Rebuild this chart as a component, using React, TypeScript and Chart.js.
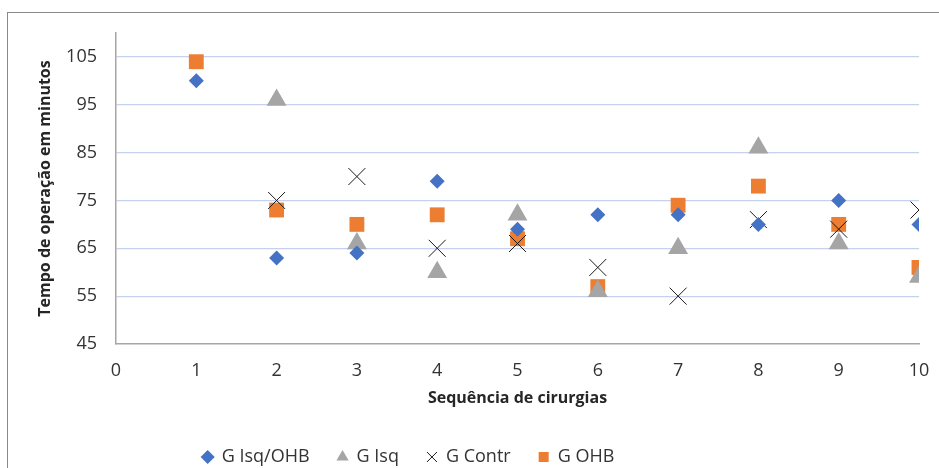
import React, { useEffect, useRef } from "react";
import { Chart, registerables } from "chart.js";

Chart.register(...registerables);

const categories = [1, 2, 3, 4, 5, 6, 7, 8, 9, 10];
const seriesNames = ["G Isq/OHB", "G Isq", "G Contr", "G OHB"];
const isqOhb = [100, 63, 64, 79, 69, 72, 72, 70, 75, 70];
const isq: (number | null)[] = [null, 96, 66, 60, 72, 56, 65, 86, 66, 59];
const contr: (number | null)[] = [null, 75, 80, 65, 66, 61, 55, 71, 69, 73];
const ohb = [104, 73, 70, 72, 67, 57, 74, 78, 70, 61];
const yTicks = [45, 55, 65, 75, 85, 95, 105];
const xTicks = [0, 1, 2, 3, 4, 5, 6, 7, 8, 9, 10];

const FONT = "'Open Sans', 'Noto Sans', sans-serif";

function toPoints(vals: (number | null)[]) {
  return categories
    .map((c, i) => ({ x: c, y: vals[i] }))
    .filter((p) => p.y !== null) as { x: number; y: number }[];
}

// shifts the legend row to the left, as in the reference
const legendShift = {
  id: "legendShift",
  afterLayout(chart: any) {
    const lg = chart.legend;
    if (lg) {
      lg.left -= 66;
      lg.right -= 66;
    }
  },
};

export default function App() {
  const ref = useRef<HTMLCanvasElement>(null);
  useEffect(() => {
    document.body.style.margin = "0";
    document.body.style.overflow = "hidden";
    const chart = new Chart(ref.current!, {
      type: "scatter",
      plugins: [legendShift],
      data: {
        datasets: [
          {
            label: seriesNames[0],
            data: toPoints(isqOhb),
            pointStyle: "rectRot",
            pointRadius: 7.5,
            backgroundColor: "#4472C4",
            borderColor: "#4472C4",
            borderWidth: 0,
          },
          {
            label: seriesNames[1],
            data: toPoints(isq),
            pointStyle: "triangle",
            pointRadius: 11.5,
            backgroundColor: "#A5A5A5",
            borderColor: "#A5A5A5",
            borderWidth: 0,
          },
          {
            label: seriesNames[2],
            data: toPoints(contr),
            pointStyle: "crossRot",
            pointRadius: 12,
            backgroundColor: "#1a1a1a",
            borderColor: "#1a1a1a",
            borderWidth: 1,
          },
          {
            label: seriesNames[3],
            data: toPoints(ohb),
            pointStyle: "rect",
            pointRadius: 10.5,
            backgroundColor: "#ED7D31",
            borderColor: "#ED7D31",
            borderWidth: 0,
          },
        ],
      },
      options: {
        animation: false,
        responsive: false,
        layout: { padding: { left: 30, right: 20, top: 33, bottom: -8 } },
        plugins: {
          tooltip: { enabled: false },
          legend: {
            position: "bottom",
            labels: {
              usePointStyle: true,
              boxWidth: 10,
              boxHeight: 10,
              padding: 28,
              color: "#333",
              font: { family: FONT, size: 18 },
            },
          },
        },
        scales: {
          x: {
            type: "linear",
            min: 0,
            max: 10,
            afterBuildTicks: (s: any) => {
              s.ticks = xTicks.map((v) => ({ value: v }));
            },
            afterFit: (s: any) => {
              s.height = 76;
              s.paddingRight = 0;
            },
            grid: { display: false, drawTicks: false },
            border: { display: true, color: "#a6a6a6", width: 1.5 },
            ticks: { color: "#333", padding: 16, font: { family: FONT, size: 18 } },
            title: {
              display: true,
              text: "Sequência de cirurgias",
              color: "#262626",
              padding: { top: 0, bottom: 12 },
              font: { family: FONT, size: 16, weight: "bold" },
            },
          },
          y: {
            type: "linear",
            min: 45,
            max: 110,
            afterBuildTicks: (s: any) => {
              s.ticks = yTicks.map((v) => ({ value: v }));
            },
            afterFit: (s: any) => {
              s.width = 86;
            },
            grid: {
              drawTicks: false,
              color: (ctx: any) => (ctx.tick && ctx.tick.value === 45 ? "rgba(0,0,0,0)" : "#c6d0ef"),
              lineWidth: 1.2,
            },
            border: { display: true, color: "#a6a6a6", width: 1.5 },
            ticks: { color: "#333", padding: 19, font: { family: FONT, size: 18 } },
            title: {
              display: true,
              text: "Tempo de operação em minutos",
              color: "#262626",
              padding: { top: 6, bottom: 0 },
              font: { family: FONT, size: 16, weight: "bold" },
            },
          },
        },
      },
    } as any);
    return () => chart.destroy();
  }, []);
  return (
    <div style={{ position: "absolute", left: 0, top: 0, width: 939, height: 468, overflow: "hidden", background: "#fff" }}>
      <div
        style={{
          position: "absolute",
          left: 7,
          top: 12,
          width: 960,
          height: 500,
          border: "1px solid #898989",
          boxSizing: "border-box",
        }}
      />
      <canvas ref={ref} width={939} height={468} style={{ position: "absolute", left: 0, top: 0 }} />
    </div>
  );
}
